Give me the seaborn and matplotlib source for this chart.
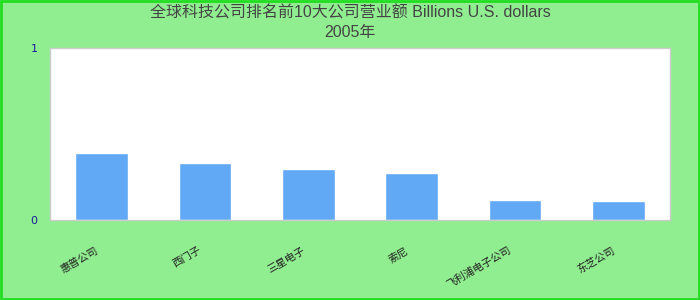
import matplotlib
matplotlib.use("Agg")
import matplotlib.pyplot as plt
import matplotlib.transforms as mtrans
import seaborn as sns
import pandas as pd

categories = ["惠普公司", "西门子", "三星电子", "索尼", "飞利浦电子公司", "东芝公司"]
values = [0.390, 0.331, 0.297, 0.273, 0.116, 0.110]
title_line1 = "全球科技公司排名前10大公司营业额 Billions U.S. dollars"
title_line2 = "2005年"
ytick_values = [0, 1]

sns.set_style("white")
plt.rcParams['font.family'] = ['Liberation Sans', 'Noto Sans CJK SC', 'DejaVu Sans']

df = pd.DataFrame({"company": categories, "value": values})

fig = plt.figure(figsize=(7, 3), dpi=100, facecolor="#90EE90")
ax = fig.add_axes([50/700, 80/300, 620/700, 172/300])
ax.set_facecolor("white")

sns.barplot(data=df, x="company", y="value", color="#62A9F5", saturation=1,
            width=0.51, ax=ax)

ax.set_ylim(0, 1)
ax.set_xlim(-0.5, len(categories) - 0.5)
ax.set_yticks(ytick_values)
ax.set_yticklabels([str(v) for v in ytick_values], color="#1a1a9c", fontsize=8,
                   family=['DejaVu Sans'])
ax.tick_params(axis="y", length=0, pad=9)
ax.tick_params(axis="x", length=0, pad=18)
ax.set_xlabel("")
ax.set_ylabel("")
offset = mtrans.ScaledTranslation(-7/100, 0, fig.dpi_scale_trans)
for lbl in ax.get_xticklabels():
    lbl.set_rotation(30)
    lbl.set_ha("right")
    lbl.set_va("top")
    lbl.set_rotation_mode("anchor")
    lbl.set_fontsize(7.5)
    lbl.set_color("#222222")
    lbl.set_transform(lbl.get_transform() + offset)

for s in ax.spines.values():
    s.set_visible(True)
    s.set_color("#cccccc")
    s.set_linewidth(1)

fig.text(0.5, 1 - 13/300, title_line1, ha="center", va="center",
         fontsize=11.5, color="#444444")
fig.text(0.5, 1 - 33/300, title_line2, ha="center", va="center",
         fontsize=11.5, color="#444444")

border = plt.Rectangle((0.001, 0.002), 0.998, 0.996, transform=fig.transFigure,
                       fill=False, edgecolor="#22dd22", linewidth=2)
fig.patches.append(border)

fig.savefig("out.png", dpi=100, facecolor=fig.get_facecolor())
